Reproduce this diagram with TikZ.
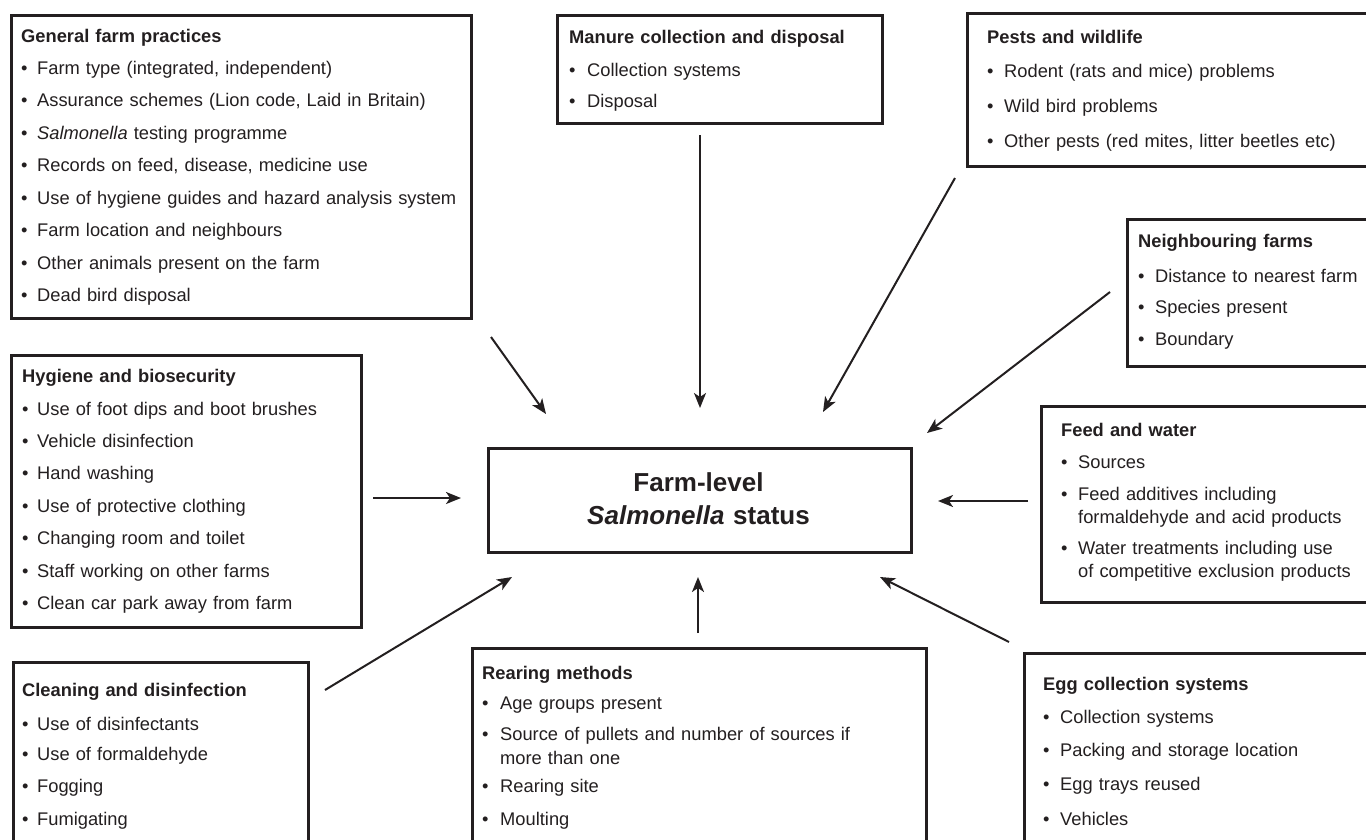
\documentclass[tikz,border=0pt]{standalone}
\usepackage{fontspec}
\setmainfont{Liberation Sans}
\usetikzlibrary{arrows.meta}
\definecolor{ink}{RGB}{35,31,32}
\newlength\bind
\setlength\bind{17pt}
\newcommand\bl{\makebox[\bind][l]{•}}
\newcommand\cont{\hspace*{\bind}}
\hyphenpenalty=10000
\exhyphenpenalty=10000
\begin{document}
\begin{tikzpicture}[x=1pt,y=-1pt,
  box/.style={draw=ink, line width=2.5pt, inner sep=0pt, anchor=north west},
  txt/.style={anchor=base west, inner sep=0pt, text width=#1, align=left,
    font=\fontsize{18.3}{23}\selectfont, text=ink},
  arr/.style={draw=ink, line width=2pt, -{Stealth[length=15pt,width=12pt,inset=4pt]}}]
\useasboundingbox (0,0) rectangle (1366,839);
\clip (0,0) rectangle (1366,839);
\fill[white] (0,0) rectangle (1366,839);

% ---------- boxes ----------
\node[box, minimum width=460pt, minimum height=303pt] (gfp) at (10,14) {};
\node[box, minimum width=325pt, minimum height=108pt] (man) at (556,14) {};
\node[box, minimum width=420pt, minimum height=153pt] (pest) at (966,12) {};
\node[box, minimum width=260pt, minimum height=147pt] (nbr) at (1126,218) {};
\node[box, minimum width=350pt, minimum height=272pt] (hyg) at (10,354) {};
\node[box, minimum width=340pt, minimum height=196pt] (feed) at (1040,405) {};
\node[box, minimum width=295pt, minimum height=200pt] (clean) at (12,661) {};
\node[box, minimum width=454pt, minimum height=213pt] (rear) at (471,647) {};
\node[box, minimum width=360pt, minimum height=208pt] (egg) at (1023,652) {};
\node[box, minimum width=423pt, minimum height=104pt] (ctr) at (487,447) {};

% ---------- texts ----------
\node[txt=600pt] (gfp-t) at (21,42.3) {\textbf{General farm practices}\\[8.7pt]
\setlength\bind{16pt}%
\bl Farm type (integrated, independent)\\[9.5pt]
\bl Assurance schemes (Lion code, Laid in Britain)\\[9.5pt]
\bl \textit{Salmonella} testing programme\\[9.5pt]
\bl Records on feed, disease, medicine use\\[9.5pt]
\bl Use of hygiene guides and hazard analysis system\\[9.5pt]
\bl Farm location and neighbours\\[9.5pt]
\bl Other animals present on the farm\\[9.5pt]
\bl Dead bird disposal};

\node[txt=500pt] (man-t) at (569,43.3) {\textbf{Manure collection and disposal}\\[10.4pt]
\setlength\bind{18pt}%
\bl Collection systems\\[7.6pt]
\bl Disposal};

\node[txt=500pt] (pest-t) at (987,43.3) {\textbf{Pests and wildlife}\\[11pt]
\bl Rodent (rats and mice) problems\\[12pt]
\bl Wild bird problems\\[12pt]
\bl Other pests (red mites, litter beetles etc)};

\node[txt=400pt] (nbr-t) at (1138,247.3) {\textbf{Neighbouring farms}\\[12.4pt]
\bl Distance to nearest farm\\[7.6pt]
\bl Species present\\[8.7pt]
\bl Boundary};

\node[txt=500pt] (hyg-t) at (22,382.7) {\textbf{Hygiene and biosecurity}\\[9.3pt]
\setlength\bind{15pt}%
\bl Use of foot dips and boot brushes\\[9.4pt]
\bl Vehicle disinfection\\[9.4pt]
\bl Hand washing\\[9.4pt]
\bl Use of protective clothing\\[9.4pt]
\bl Changing room and toilet\\[9.4pt]
\bl Staff working on other farms\\[9.4pt]
\bl Clean car park away from farm};

\node[txt=500pt] (feed-t) at (1061,436.7) {\textbf{Feed and water}\\[8.6pt]
\bl Sources\\[9.4pt]
\bl Feed additives including\\
\cont formaldehyde and acid products\\[7.7pt]
\bl Water treatments including use\\
\cont of competitive exclusion products};

\node[txt=500pt] (clean-t) at (22,696) {\textbf{Cleaning and disinfection}\\[11pt]
\setlength\bind{15pt}%
\bl Use of disinfectants\\[7pt]
\bl Use of formaldehyde\\[9.7pt]
\bl Fogging\\[9.7pt]
\bl Fumigating};

\node[txt=600pt] (rear-t) at (482,679) {\textbf{Rearing methods}\\[7pt]
\setlength\bind{18pt}%
\bl Age groups present\\[8pt]
\bl Source of pullets and number of sources if\\[1pt]
\cont more than one\\[5.7pt]
\bl Rearing site\\[10pt]
\bl Moulting};

\node[txt=500pt] (egg-t) at (1043,690) {\textbf{Egg collection systems}\\[10.3pt]
\bl Collection systems\\[10.4pt]
\bl Packing and storage location\\[10.3pt]
\bl Egg trays reused\\[12pt]
\bl Vehicles};

\node[anchor=base, inner sep=0pt, text width=400pt, align=center, text=ink,
  font=\fontsize{26}{32.3}\selectfont\bfseries] (ctr-t) at (698.5,491.7)
  {Farm-level\\\textit{Salmonella} status};

% ---------- arrow end points ----------
\coordinate (g1) at (491,337);  \coordinate (g2) at (546,414);
\coordinate (m1) at (700,135);  \coordinate (m2) at (700,408);
\coordinate (p1) at (955,178);  \coordinate (p2) at (823,412);
\coordinate (n1) at (1110,292); \coordinate (n2) at (927,433);
\coordinate (h1) at (373,498);  \coordinate (h2) at (461,498);
\coordinate (f1) at (1028,501); \coordinate (f2) at (938,501);
\coordinate (c1) at (325,690);  \coordinate (c2) at (512,577);
\coordinate (r1) at (698,633);  \coordinate (r2) at (698,577);
\coordinate (e1) at (1009,642); \coordinate (e2) at (880,577);

\draw[arr] (g1) -- (g2);
\draw[arr] (m1) -- (m2);
\draw[arr] (p1) -- (p2);
\draw[arr] (n1) -- (n2);
\draw[arr] (h1) -- (h2);
\draw[arr] (f1) -- (f2);
\draw[arr] (c1) -- (c2);
\draw[arr] (r1) -- (r2);
\draw[arr] (e1) -- (e2);
\end{tikzpicture}
\end{document}
